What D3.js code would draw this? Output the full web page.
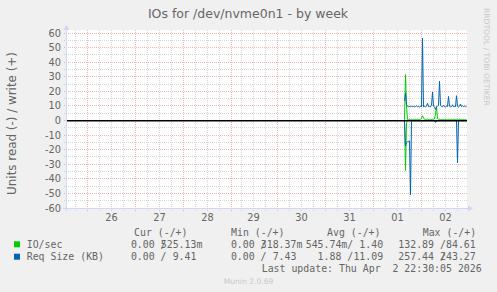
<!DOCTYPE html>
<html>
<head>
<meta charset="utf-8">
<script src="https://cdn.jsdelivr.net/npm/d3@7"></script>
<style>
  body { margin: 0; background: #f0f0f0; }
  svg { display: block; }
  text { font-family: "DejaVu Sans", sans-serif; fill: #666; }
  .mono { font-family: "DejaVu Sans Mono", monospace; white-space: pre; font-size: 9.9px; }
</style>
</head>
<body>
<div id="chart"></div>
<script>
// Samples every 30 minutes, the last one at the last update
var lastUpdate = "2026-04-02T22:30:00+02:00";
var stepMinutes = 30;
var spanHours = 200;

// IO/sec (green), write is drawn up, read is drawn down
var ioWrite = [0.5, 31.5, 10, 0.8, 0.7, 0.9, 0.6, 0.8, 0.7, 0.6, 0.8, 0.7, 0.6, 0.9, 0.7, 0.6,
  0.8, 1.2, 3.3, 2, 0.8, 0.6, 0.7, 0.9, 0.7, 0.6, 0.8, 0.7, 0.9, 0.7, 1.1, 4.5,
  9.5, 1.5, 0.8, 0.9, 0.7, 0.6, 0.8, 0.7, 0.6, 0.8, 0.7, 0.6, 0.9, 0.7, 0.6, 0.8,
  0.7, 0.6, 0.8, 0.7, 0.9, 0.7, 0.6, 0.8, 0.7, 0.6, 0.8, 0.7, 0.6, 0.7, 0.525];
var ioRead = [0.2, 34.3, 1.5, 0.1, 0.05, 0.05, 0.05, 0.05, 0.05, 0.05, 0.05, 0.05, 0.05, 0.05, 0.05, 0.05,
  0.05, 0.05, 0.05, 0.05, 0.05, 0.05, 0.05, 0.05, 0.05, 0.05, 0.05, 0.05, 0.05, 0.05, 0.05, 0.3,
  0.2, 0.05, 0.05, 0.05, 0.05, 0.05, 0.05, 0.05, 0.05, 0.05, 0.05, 0.05, 0.05, 0.05, 0.05, 0.05,
  0.05, 0.05, 0.05, 0.05, 0.05, 0.05, 0.05, 0.05, 0.05, 0.05, 0.05, 0.05, 0.05, 0.05, 0];

// Req Size (KB) (blue)
var reqWrite = [13.5, 19, 11, 9.8, 9.5, 9.6, 9.4, 9.8, 9.5, 9.7, 9.4, 9.6, 10, 9.5, 9.8, 9.3,
  9.6, 9.5, 56.6, 9.4, 9.6, 9.5, 9.8, 11.8, 9.5, 9.7, 9.4, 10.2, 19.5, 10, 9.2, 7.6,
  9.4, 9.8, 10.3, 27, 10.5, 9.6, 9.4, 10.4, 9.5, 9.3, 9.8, 9.6, 16.5, 9.8, 9.4, 9.5,
  10.8, 9.4, 9.6, 9.5, 17, 9.7, 9.2, 9.8, 11.3, 9.5, 10.1, 9.4, 9.9, 9.5, 9.41];
var reqRead = [0.5, 17.5, 15, 14.5, 14.3, 14, 51, 0.8, 0.1, 0.1, 0.1, 0.1, 0.1, 0.1, 0.1, 0.1,
  0.1, 0.1, 0.1, 0.1, 0.1, 0.1, 0.1, 0.1, 0.1, 0.1, 0.1, 0.1, 0.1, 0.1, 0.1, 1.3,
  0.8, 0.1, 0.1, 0.1, 0.1, 0.1, 0.1, 0.1, 0.1, 0.1, 0.1, 0.1, 0.1, 0.1, 0.1, 0.1,
  0.1, 0.1, 0.1, 0.1, 0.1, 29, 0.5, 0.1, 0.1, 0.1, 0.1, 0.1, 0.1, 0.1, 0];

var days = ["2026-03-25", "2026-03-26", "2026-03-27", "2026-03-28", "2026-03-29",
  "2026-03-30", "2026-03-31", "2026-04-01", "2026-04-02"];
var gridHours = [0, 6, 12, 18];
var yTicks = [-60, -50, -40, -30, -20, -10, 0, 10, 20, 30, 40, 50, 60];
var yMinor = [-55, -45, -35, -25, -15, -5, 5, 15, 25, 35, 45, 55];

var legendNames = ["IO/sec", "Req Size (KB)"];
var legendColors = ["#00cc00", "#0066b3"];
var legendHeaders = ["Cur (-/+)", "Min (-/+)", "Avg (-/+)", "Max (-/+)"];
var ioStats = [["0.00", "525.13m"], ["0.00", "318.37m"], ["545.74m", "1.40"], ["132.89", "84.61"]];
var reqStats = [["0.00", "9.41"], ["0.00", "7.43"], ["1.88", "11.09"], ["257.44", "243.27"]];

var chartW = 497, chartH = 292;
var plotLeft = 66.5, plotRight = 466.5, plotTop = 33, plotBottom = 208;

var svg = d3.select("#chart").append("svg")
  .attr("width", chartW).attr("height", chartH);

svg.append("rect").attr("width", chartW).attr("height", chartH).attr("fill", "#f0f0f0");

var endTime = new Date(lastUpdate);
var startTime = new Date(endTime.getTime() - spanHours * 3600e3);

var x = d3.scaleUtc().domain([startTime, endTime]).range([plotLeft, plotRight]);
var y = d3.scaleLinear().domain([-60, 60]).range([plotBottom, plotTop]);

// local time (CET / CEST) for grid lines
function localDate(day, h) {
  var off = (day < "2026-03-29" || (day == "2026-03-29" && h < 2)) ? "+01:00" : "+02:00";
  return new Date(day + "T" + String(h).padStart(2, "0") + ":00:00" + off);
}
function inRange(d) { return d >= startTime && d <= endTime; }
function px(v) { return Math.floor(v) + 0.5; }

// plot canvas
svg.append("rect")
  .attr("x", 67).attr("y", 30).attr("width", 400).attr("height", 178.5)
  .attr("fill", "#fff");

var minorX = [], majorX = [];
days.forEach(function(day) {
  gridHours.forEach(function(h) {
    var d = localDate(day, h);
    if (inRange(d)) (h == 0 ? majorX : minorX).push(d);
  });
});

var grid = svg.append("g");
var minorStyle = { stroke: "rgba(128,128,128,0.32)", dash: "1,1" };
var majorStyle = { stroke: "rgba(224,79,79,0.42)", dash: "1,1" };

grid.selectAll(".vminor").data(minorX).enter().append("line")
  .attr("x1", function(d) { return px(x(d)); }).attr("x2", function(d) { return px(x(d)); })
  .attr("y1", 30).attr("y2", 211)
  .attr("stroke", minorStyle.stroke).attr("stroke-dasharray", minorStyle.dash);
grid.selectAll(".hminor").data(yMinor).enter().append("line")
  .attr("y1", function(d) { return px(y(d)); }).attr("y2", function(d) { return px(y(d)); })
  .attr("x1", 64).attr("x2", 467)
  .attr("stroke", minorStyle.stroke).attr("stroke-dasharray", minorStyle.dash);
grid.selectAll(".vmajor").data(majorX).enter().append("line")
  .attr("x1", function(d) { return px(x(d)); }).attr("x2", function(d) { return px(x(d)); })
  .attr("y1", 30).attr("y2", 211)
  .attr("stroke", majorStyle.stroke).attr("stroke-dasharray", majorStyle.dash);
grid.selectAll(".hmajor").data(yTicks).enter().append("line")
  .attr("y1", function(d) { return px(y(d)); }).attr("y2", function(d) { return px(y(d)); })
  .attr("x1", 64).attr("x2", 467)
  .attr("stroke", majorStyle.stroke).attr("stroke-dasharray", majorStyle.dash);

// axes
var axisColor = "#cfd6f8";
svg.append("line").attr("x1", 63).attr("x2", 468).attr("y1", px(y(-60))).attr("y2", px(y(-60)))
  .attr("stroke", axisColor);
svg.append("line").attr("x1", 66.5).attr("x2", 66.5).attr("y1", 211).attr("y2", 29)
  .attr("stroke", axisColor);
svg.append("path").attr("d", "M468,205.5L473,208.5L468,211.5Z").attr("fill", axisColor);
svg.append("path").attr("d", "M63.5,30L66.5,25L69.5,30Z").attr("fill", axisColor);

// tick labels
svg.selectAll(".ylab").data(yTicks).enter().append("text")
  .attr("x", 61).attr("y", function(d) { return px(y(d)) + 3.5; })
  .attr("text-anchor", "end").style("font-size", "9.8px")
  .text(function(d) { return d; });

var labelDays = days.filter(function(day) { return inRange(localDate(day, 12)); });
svg.selectAll(".xlab").data(labelDays).enter().append("text")
  .attr("x", function(d) { return x(localDate(d, 12)); }).attr("y", 220.5)
  .attr("text-anchor", "middle").style("font-size", "9.8px")
  .text(function(d) { return d.slice(8); });

// series
var n = ioWrite.length;
var times = d3.range(n).map(function(i) {
  return new Date(endTime.getTime() - (n - 1 - i) * stepMinutes * 60e3);
});
function drawSeries(values, sign, color) {
  var line = d3.line()
    .x(function(d, i) { return x(times[i]); })
    .y(function(d) { return y(sign * d); });
  svg.append("path").datum(values)
    .attr("d", line).attr("fill", "none")
    .attr("stroke", color).attr("stroke-width", 1);
}
drawSeries(ioRead, -1, legendColors[0]);
drawSeries(ioWrite, 1, legendColors[0]);
drawSeries(reqRead, -1, legendColors[1]);
drawSeries(reqWrite, 1, legendColors[1]);

// zero line
svg.append("line").attr("x1", 67).attr("x2", 467)
  .attr("y1", y(0) + 0.3).attr("y2", y(0) + 0.3)
  .attr("stroke", "#000").attr("stroke-width", 1.5);

// title and labels
svg.append("text").attr("x", 248).attr("y", 18).attr("text-anchor", "middle")
  .style("font-size", "12.5px").text("IOs for /dev/nvme0n1 - by week");
svg.append("text").attr("transform", "translate(16,123.5) rotate(-90)")
  .attr("text-anchor", "middle").style("font-size", "11.9px")
  .text("Units read (-) / write (+)");
svg.append("text").attr("transform", "translate(483.5,8) rotate(90)")
  .style("font-size", "7.6px").style("fill", "#c8c8c8")
  .text("RRDTOOL / TOBI OETIKER");

// legend
var charW = 5.97;
var colX = [119, 219, 305.7, 398.3];
var headX = [134, 231, 327, 422.7];
var rowY = [247.8, 260.2];

function seg(v, withSlash) {
  var m = v.match(/^([\d.]+)(\D?)$/);
  var s = m[1].padStart(6, " ") + (m[2] || (withSlash ? " " : ""));
  return withSlash ? s + "/" : s;
}

svg.selectAll(".head").data(legendHeaders).enter().append("text")
  .attr("class", "mono").attr("x", function(d, i) { return headX[i]; }).attr("y", 235.8)
  .text(function(d) { return d; });

[ioStats, reqStats].forEach(function(stats, r) {
  svg.append("rect").attr("x", 14).attr("y", rowY[r] - 6.5).attr("width", 6).attr("height", 6)
    .attr("fill", legendColors[r]);
  svg.append("text").attr("class", "mono").attr("x", 26.7).attr("y", rowY[r])
    .text(legendNames[r]);
  stats.forEach(function(pair, c) {
    svg.append("text").attr("class", "mono").attr("x", colX[c]).attr("y", rowY[r])
      .text(seg(pair[0], true));
    svg.append("text").attr("class", "mono").attr("x", colX[c] + 7 * charW).attr("y", rowY[r])
      .text(seg(pair[1], false));
  });
});

svg.append("text").attr("class", "mono").attr("x", 261.7).attr("y", 272.3)
  .text("Last update: Thu Apr  2 22:30:05 2026");
svg.append("text").attr("x", 248.5).attr("y", 283.5).attr("text-anchor", "middle")
  .style("font-size", "7.6px").style("fill", "#c8c8c8")
  .text("Munin 2.0.69");
</script>
</body>
</html>
